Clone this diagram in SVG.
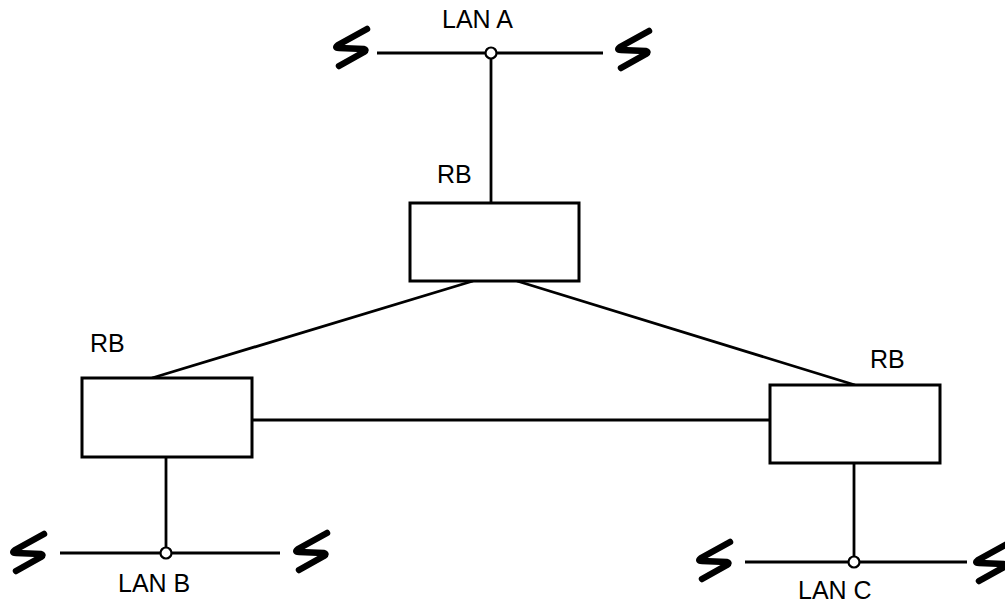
<svg xmlns="http://www.w3.org/2000/svg" width="1005" height="605" viewBox="0 0 1005 605">
<style>
.ln{stroke:#000;stroke-width:2.8;fill:none}
.box{stroke:#000;stroke-width:3;fill:#fff}
.tap{stroke:#000;stroke-width:2.2;fill:#fff}
.bolt{stroke:#000;stroke-width:6.5;fill:none;stroke-linejoin:round;stroke-linecap:round}
.t{font-family:"Liberation Sans",Arial,sans-serif;font-size:25px;fill:#000}
</style>
<defs>
<path id="zap" class="bolt" d="M16,-18 L-13,-2 Q-17,1 -12,1 L13,2 Q16,3 13,5 L-12,19"/>
</defs>
<g id="connectors">
<line class="ln" x1="491" y1="53" x2="491" y2="203"/>
<line class="ln" x1="473" y1="281" x2="152" y2="378"/>
<line class="ln" x1="517" y1="281" x2="855" y2="385"/>
<line class="ln" x1="252" y1="420" x2="770" y2="420"/>
<line class="ln" x1="166" y1="457" x2="166" y2="553"/>
<line class="ln" x1="854" y1="463" x2="854" y2="562"/>
</g>
<g id="lanA">
<line class="ln" x1="377" y1="53" x2="603" y2="53"/>
<circle class="tap" cx="491" cy="53" r="5.5"/>
<use href="#zap" x="351" y="47"/>
<use href="#zap" x="633" y="49"/>
<text class="t" x="442" y="28">LAN A</text>
</g>
<g id="lanB">
<line class="ln" x1="60" y1="553" x2="280" y2="553"/>
<circle class="tap" cx="166" cy="553" r="5.5"/>
<use href="#zap" x="28" y="552"/>
<use href="#zap" x="311" y="551"/>
<text class="t" x="118" y="592">LAN B</text>
</g>
<g id="lanC">
<line class="ln" x1="745" y1="562" x2="967" y2="562"/>
<circle class="tap" cx="854" cy="562" r="5.5"/>
<use href="#zap" x="714" y="560"/>
<use href="#zap" x="991" y="562"/>
<text class="t" x="798" y="599">LAN C</text>
</g>
<g id="rbTop">
<rect class="box" x="410" y="203" width="169" height="78"/>
<text class="t" x="437" y="183">RB</text>
</g>
<g id="rbLeft">
<rect class="box" x="82" y="378" width="170" height="79"/>
<text class="t" x="90" y="352">RB</text>
</g>
<g id="rbRight">
<rect class="box" x="770" y="385" width="170" height="78"/>
<text class="t" x="870" y="368">RB</text>
</g>
</svg>
